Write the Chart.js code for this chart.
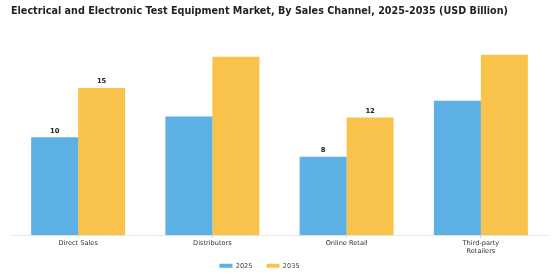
<!DOCTYPE html>
<html>
<head>
<meta charset="utf-8">
<script src="https://cdn.jsdelivr.net/npm/chart.js@4"></script>
<style>
  html, body { margin: 0; padding: 0; background: #fff; }
  #wrap { width: 560px; height: 280px; }
</style>
</head>
<body>
<div id="wrap"><canvas id="chart-area" width="560" height="280"></canvas></div>
<script>
// data
var categories = ['Direct Sales', 'Distributors', 'Online Retail', ['Third-party', 'Retailers']];
var seriesNames = ['2025', '2035'];
var values2025 = [10, 12.1, 8, 13.7];
var values2035 = [15, 18.2, 12, 18.4];
// only some bars carry a printed value
var labels2025 = ['10', null, '8', null];
var labels2035 = ['15', null, '12', null];

var blue = '#5DB0E4';
var yellow = '#F8C24B';

// draws the value labels above the bars
var barLabels = {
    id: 'barLabels',
    afterDatasetsDraw: function (chart) {
        var ctx = chart.ctx;
        var lists = [labels2025, labels2035];
        ctx.save();
        ctx.font = 'bold 6.8px "DejaVu Sans"';
        ctx.fillStyle = '#222';
        ctx.textAlign = 'center';
        ctx.textBaseline = 'bottom';
        chart.data.datasets.forEach(function (ds, i) {
            var meta = chart.getDatasetMeta(i);
            meta.data.forEach(function (bar, j) {
                var txt = lists[i][j];
                if (txt) {
                    ctx.fillText(txt, bar.x, bar.y - 3);
                }
            });
        });
        ctx.restore();
    }
};

// legend sits a bit left of centre and tight under the ticks in the original
var legendShift = {
    id: 'legendShift',
    afterLayout: function (chart) {
        chart.legend.left -= 20;
        chart.legend.right -= 20;
        chart.legend.top -= 9;
        chart.legend.bottom -= 9;
    }
};

var config = {
    type: 'bar',
    data: {
        labels: categories,
        datasets: [{
            label: seriesNames[0],
            data: values2025,
            backgroundColor: blue
        }, {
            label: seriesNames[1],
            data: values2035,
            backgroundColor: yellow
        }]
    },
    options: {
        responsive: false,
        animation: false,
        layout: {
            padding: { left: 11, right: 12, top: 0, bottom: 2 }
        },
        datasets: {
            bar: { categoryPercentage: 0.7, barPercentage: 1.0 }
        },
        scales: {
            x: {
                grid: { display: true, offset: false, drawOnChartArea: false, tickLength: 2, color: '#bbb' },
                border: { color: '#e6e6e6' },
                ticks: {
                    color: '#333',
                    padding: 1.5,
                    font: { family: 'DejaVu Sans', size: 6.6, lineHeight: 1.3 }
                }
            },
            y: {
                display: false,
                min: 0,
                max: 20
            }
        },
        plugins: {
            title: {
                display: true,
                align: 'start',
                text: 'Electrical and Electronic Test Equipment Market, By Sales Channel, 2025-2035 (USD Billion)',
                color: '#222',
                font: { family: 'DejaVu Sans', size: 9.65, weight: 'bold' },
                padding: { top: 6, bottom: 21.4 }
            },
            legend: {
                position: 'bottom',
                maxHeight: 20.5,
                labels: {
                    boxWidth: 13,
                    boxHeight: 4,
                    color: '#444',
                    padding: 14,
                    font: { family: 'DejaVu Sans', size: 6.6 }
                }
            },
            tooltip: { enabled: false }
        }
    },
    plugins: [barLabels, legendShift]
};

window.onload = function () {
    var ctx = document.getElementById('chart-area').getContext('2d');
    window.myBar = new Chart(ctx, config);
};
</script>
</body>
</html>
